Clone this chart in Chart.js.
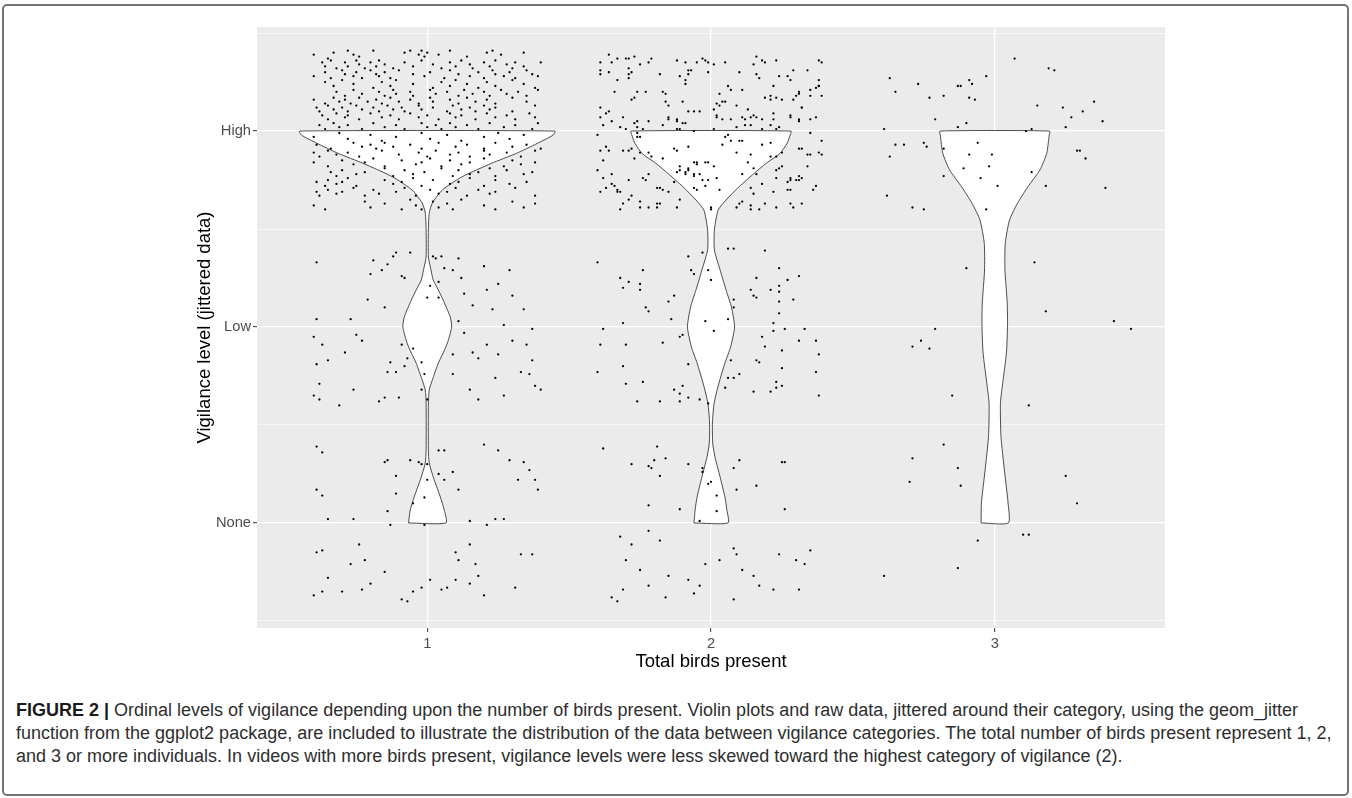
<!DOCTYPE html>
<html>
<head>
<meta charset="utf-8">
<script src="https://cdn.jsdelivr.net/npm/chart.js@4"></script>
<style>
html, body { margin: 0; padding: 0; background: #ffffff; }
#frame { position: absolute; left: 2px; top: 4px; width: 1343px; height: 788px; border: 2px solid #737373; border-radius: 5px; }
#wrap { position: absolute; left: 0; top: 0; width: 1352px; height: 690px; }
#caption { position: absolute; left: 16px; top: 699px; font-family: "Liberation Sans", Arial, sans-serif; font-size: 18px; line-height: 23px; color: #2e2e2e; white-space: nowrap; }
#caption b { color: #1a1a1a; }
</style>
</head>
<body>
<div id="frame"></div>
<div id="wrap"><canvas id="c"></canvas></div>
<div id="caption"><b>FIGURE 2 |</b> Ordinal levels of vigilance depending upon the number of birds present. Violin plots and raw data, jittered around their category, using the geom_jitter<br>function from the ggplot2 package, are included to illustrate the distribution of the data between vigilance categories. The total number of birds present represent 1, 2,<br>and 3 or more individuals. In videos with more birds present, vigilance levels were less skewed toward the highest category of vigilance (2).</div>
<script>
// ---------- categories & tick labels ----------
const xCategories = [1, 2, 3];
const xTickLabels = ['1', '2', '3'];
const yLevels = [0, 1, 2];
const yTickLabels = ['None', 'Low', 'High'];
const yMinorLines = [-0.5, 0.5, 1.5, 2.5];

// ---------- violin outlines (level value, half width in category units) ----------
const v1Level = [0.000,0.066,0.133,0.235,0.306,0.372,0.612,0.679,0.730,0.816,0.867,0.918,1.000,1.051,1.138,1.189,1.240,1.306,1.357,1.495,1.582,1.633,1.699,1.767,1.835,1.886,1.937,1.980,2.000];
const v1Half  = [0.066,0.060,0.046,0.021,0.007,0.004,0.004,0.007,0.018,0.039,0.056,0.071,0.086,0.081,0.056,0.039,0.021,0.011,0.004,0.004,0.007,0.018,0.053,0.123,0.226,0.314,0.388,0.444,0.450];
const v2Level = [0.000,0.066,0.133,0.235,0.337,0.408,0.510,0.612,0.714,0.816,0.898,1.000,1.102,1.189,1.291,1.393,1.495,1.597,1.648,1.716,1.784,1.835,1.886,1.937,1.980,2.000];
const v2Half  = [0.060,0.056,0.049,0.032,0.014,0.006,0.005,0.011,0.028,0.049,0.069,0.083,0.072,0.053,0.032,0.012,0.012,0.025,0.053,0.099,0.152,0.194,0.243,0.268,0.279,0.282];
const v3Level = [0.000,0.101,0.270,0.440,0.611,0.713,0.866,1.002,1.121,1.291,1.427,1.546,1.631,1.716,1.801,1.886,1.980,2.000];
const v3Half  = [0.048,0.047,0.034,0.022,0.020,0.028,0.041,0.045,0.044,0.036,0.037,0.052,0.080,0.117,0.159,0.183,0.192,0.193];

// ---------- jittered raw data [birds (jittered), vigilance (jittered)] ----------
const g1High = [
[0.60,2.39],[0.65,2.37],[0.67,2.40],[0.72,2.41],[0.74,2.39],[0.76,2.38],[0.81,2.41],[0.92,2.40],[0.94,2.41],[0.97,2.39],[0.98,2.41],[0.99,2.38],[1.00,2.40],[1.04,2.39],[1.08,2.41],[1.14,2.38],[1.21,2.40],[1.23,2.41],[1.26,2.39],[1.34,2.40],
[0.63,2.35],[0.64,2.33],[0.66,2.36],[0.68,2.32],[0.71,2.35],[0.72,2.33],[0.75,2.36],[0.76,2.34],[0.78,2.32],[0.80,2.35],[0.82,2.33],[0.83,2.36],[0.85,2.34],[0.88,2.32],[0.92,2.35],[0.95,2.33],[0.98,2.36],[1.02,2.34],[1.05,2.32],[1.08,2.35],[1.10,2.33],[1.12,2.36],[1.15,2.34],[1.16,2.32],[1.20,2.35],[1.22,2.33],[1.24,2.36],[1.28,2.34],[1.30,2.32],[1.31,2.35],[1.34,2.33],[1.40,2.35],
[0.60,2.28],[0.64,2.30],[0.66,2.27],[0.70,2.31],[0.71,2.29],[0.74,2.28],[0.75,2.30],[0.77,2.27],[0.80,2.31],[0.82,2.29],[0.83,2.28],[0.85,2.30],[0.87,2.27],[0.90,2.31],[0.95,2.29],[0.99,2.28],[1.01,2.30],[1.06,2.27],[1.08,2.31],[1.11,2.29],[1.15,2.28],[1.18,2.30],[1.20,2.27],[1.23,2.31],[1.24,2.29],[1.27,2.28],[1.29,2.30],[1.31,2.27],[1.35,2.31],[1.37,2.29],[1.39,2.28],
[0.64,2.25],[0.67,2.23],[0.70,2.26],[0.74,2.24],[0.81,2.22],[0.84,2.25],[0.87,2.23],[0.89,2.26],[0.95,2.24],[1.02,2.22],[1.05,2.25],[1.08,2.23],[1.10,2.26],[1.14,2.24],[1.18,2.22],[1.21,2.25],[1.24,2.23],[1.30,2.26],[1.34,2.24],[1.38,2.22],
[0.68,2.20],[0.71,2.18],[0.74,2.21],[0.77,2.19],[0.83,2.20],[0.85,2.18],[0.88,2.21],[0.89,2.19],[0.94,2.20],[0.95,2.18],[1.01,2.21],[1.03,2.19],[1.07,2.20],[1.11,2.18],[1.13,2.21],[1.16,2.19],[1.20,2.20],[1.22,2.18],[1.26,2.21],[1.28,2.19],[1.32,2.20],[1.35,2.18],[1.39,2.21],
[0.60,2.16],[0.64,2.14],[0.67,2.17],[0.69,2.15],[0.71,2.16],[0.73,2.14],[0.76,2.17],[0.79,2.15],[0.82,2.16],[0.84,2.14],[0.87,2.17],[0.90,2.15],[0.94,2.16],[0.97,2.14],[1.01,2.17],[1.02,2.15],[1.08,2.16],[1.11,2.14],[1.14,2.17],[1.17,2.15],[1.21,2.16],[1.24,2.14],[1.30,2.17],[1.35,2.15],
[0.61,2.12],[0.62,2.10],[0.65,2.13],[0.67,2.11],[0.70,2.12],[0.72,2.10],[0.75,2.13],[0.77,2.11],[0.81,2.12],[0.83,2.10],[0.86,2.13],[0.88,2.11],[0.91,2.12],[0.92,2.10],[0.97,2.13],[0.98,2.11],[1.02,2.12],[1.07,2.10],[1.09,2.13],[1.12,2.11],[1.15,2.12],[1.17,2.10],[1.20,2.13],[1.22,2.11],[1.24,2.12],[1.30,2.10],[1.38,2.13],
[0.63,2.08],[0.65,2.06],[0.68,2.09],[0.71,2.07],[0.72,2.08],[0.76,2.06],[0.80,2.09],[0.84,2.07],[0.87,2.08],[0.90,2.06],[0.94,2.09],[0.97,2.07],[1.00,2.08],[1.04,2.06],[1.08,2.09],[1.10,2.07],[1.12,2.08],[1.17,2.06],[1.21,2.09],[1.24,2.07],[1.28,2.08],[1.31,2.06],[1.36,2.09],[1.38,2.07],
[0.62,2.03],[0.64,2.01],[0.67,2.04],[0.69,2.02],[0.72,2.03],[0.77,2.01],[0.81,2.04],[0.85,2.02],[0.89,2.03],[0.92,2.01],[0.98,2.04],[1.00,2.02],[1.03,2.03],[1.05,2.01],[1.08,2.04],[1.10,2.02],[1.14,2.03],[1.18,2.01],[1.22,2.04],[1.27,2.02],[1.31,2.03],[1.37,2.01],[1.39,2.04],
[0.60,1.97],[0.69,1.99],[0.72,1.96],[0.80,1.98],[0.84,1.95],[0.89,1.97],[0.98,1.99],[1.01,1.96],[1.07,1.98],[1.12,1.95],[1.20,1.97],[1.25,1.99],[1.29,1.96],[1.34,1.98],
[0.61,1.93],[0.66,1.91],[0.74,1.94],[0.77,1.92],[0.80,1.93],[0.82,1.91],[0.85,1.94],[0.88,1.92],[0.94,1.93],[0.98,1.91],[1.04,1.94],[1.10,1.92],[1.14,1.93],[1.20,1.91],[1.24,1.94],[1.30,1.92],[1.35,1.93],[1.40,1.91],
[0.60,1.89],[0.62,1.87],[0.65,1.90],[0.68,1.88],[0.72,1.89],[0.76,1.87],[0.84,1.90],[0.90,1.88],[0.97,1.89],[1.00,1.87],[1.03,1.90],[1.08,1.88],[1.11,1.89],[1.15,1.87],[1.20,1.90],[1.22,1.88],[1.28,1.89],[1.33,1.87],[1.38,1.90],
[0.60,1.84],[0.65,1.82],[0.70,1.85],[0.74,1.83],[0.78,1.84],[0.81,1.86],[0.85,1.82],[0.91,1.85],[0.96,1.83],[0.98,1.84],[1.01,1.86],[1.05,1.82],[1.08,1.85],[1.12,1.83],[1.15,1.84],[1.20,1.86],[1.27,1.82],[1.30,1.85],[1.33,1.83],[1.38,1.84],
[0.66,1.79],[0.68,1.77],[0.70,1.80],[0.75,1.78],[0.78,1.79],[0.85,1.81],[0.88,1.77],[0.92,1.80],[0.95,1.78],[0.99,1.79],[1.05,1.81],[1.09,1.77],[1.11,1.80],[1.15,1.78],[1.18,1.79],[1.22,1.81],[1.24,1.77],[1.28,1.80],[1.34,1.78],[1.37,1.79],
[0.61,1.74],[0.64,1.72],[0.65,1.75],[0.68,1.73],[0.70,1.74],[0.72,1.76],[0.75,1.72],[0.85,1.75],[0.88,1.73],[0.91,1.74],[0.95,1.76],[0.98,1.72],[1.02,1.75],[1.08,1.73],[1.11,1.74],[1.15,1.76],[1.20,1.72],[1.24,1.75],[1.29,1.73],[1.35,1.74],
[0.61,1.69],[0.62,1.67],[0.65,1.70],[0.68,1.68],[0.70,1.69],[0.74,1.71],[0.78,1.67],[0.81,1.70],[0.83,1.68],[0.89,1.69],[0.92,1.71],[0.96,1.67],[1.01,1.70],[1.04,1.68],[1.07,1.69],[1.10,1.71],[1.14,1.67],[1.18,1.70],[1.22,1.68],[1.24,1.69],[1.31,1.71],[1.38,1.67],
[0.60,1.62],[0.64,1.60],[0.78,1.64],[0.80,1.61],[0.85,1.63],[0.91,1.60],[0.94,1.65],[0.96,1.62],[0.98,1.60],[1.02,1.64],[1.04,1.61],[1.07,1.63],[1.09,1.60],[1.12,1.65],[1.20,1.62],[1.24,1.60],[1.30,1.64],[1.34,1.61],[1.38,1.63]
];
const g1Low = [
[0.89,1.38],[0.88,1.36],[0.94,1.38],[0.86,1.32],[0.84,1.29],[0.91,1.26],[0.92,1.25],[1.02,1.36],[1.03,1.35],[1.05,1.36],[1.11,1.35],[1.06,1.30],[1.09,1.29],[1.12,1.25],[1.04,1.23],[1.01,1.21],[1.13,1.17],[1.00,1.15],[1.04,1.15],[1.16,1.11],[0.85,1.10],[1.11,1.03],[1.13,0.97],[0.91,0.91],[0.95,0.89],[1.16,0.87],[1.18,0.84],[1.09,0.86],[0.87,0.82],[0.93,0.84],[0.98,0.82],[0.92,0.80],[0.86,0.77],[0.89,0.77],[1.09,0.76],[0.99,0.76],[0.98,0.68],[1.15,0.68],[0.85,0.64],[0.83,0.62],[0.90,0.64],[1.00,0.63],[1.18,0.63],
[0.61,1.33],[0.61,1.04],[0.60,0.95],[0.63,0.91],[0.65,0.83],[0.61,0.81],[0.60,0.65],[0.62,0.63],[0.71,0.87],[0.73,1.04],[0.75,0.96],[0.77,0.93],[0.79,1.14],[0.80,1.27],[0.81,1.34],[0.74,0.68],[0.69,0.60],[0.62,0.71],
[1.21,1.19],[1.23,1.09],[1.25,1.22],[1.27,1.01],[1.30,0.93],[1.33,0.77],[1.35,0.91],[1.37,0.83],[1.38,0.70],[1.37,0.99],[1.34,1.09],[1.30,1.16],[1.25,0.86],[1.27,0.65],[1.24,0.74],[1.21,0.91],[1.20,1.31],[1.29,1.29],[1.36,0.76],[1.40,0.68]
];
const g1None = [
[1.04,0.37],[1.06,0.37],[0.85,0.31],[0.86,0.32],[0.94,0.32],[0.97,0.31],[0.98,0.30],[1.00,0.30],[1.04,0.25],[1.09,0.26],[0.89,0.24],[1.06,0.22],[1.00,0.22],[1.11,0.17],[0.89,0.15],[0.99,0.13],[0.95,0.10],[0.86,0.06],[0.87,-0.01],[0.99,-0.01],[1.15,0.01],
[0.61,0.39],[0.63,0.36],[0.61,0.17],[0.63,0.14],[0.65,0.02],[0.61,-0.15],[0.63,-0.14],[0.65,-0.28],[0.74,0.02],[0.76,-0.11],[0.78,-0.19],[0.73,-0.21],[0.80,-0.31],[0.85,-0.25],
[1.20,0.40],[1.25,0.37],[1.29,0.32],[1.32,0.22],[1.34,0.31],[1.36,0.27],[1.38,0.22],[1.39,0.17],[1.33,-0.16],[1.37,-0.16],[1.24,0.02],[1.27,0.02],[1.21,-0.01],[1.15,-0.11],[1.10,-0.15],[1.11,-0.19],[1.17,-0.21],[1.18,-0.27],[1.10,-0.29],[1.07,-0.33],[1.01,-0.29],
[0.60,-0.37],[0.63,-0.35],[0.70,-0.35],[0.77,-0.34],[0.91,-0.39],[0.93,-0.40],[0.95,-0.35],[0.98,-0.33],[1.05,-0.34],[1.15,-0.31],[1.20,-0.37],[1.31,-0.33]
];
const g2High = [
[1.64,2.39],[1.61,2.35],[1.65,2.35],[1.67,2.37],[1.70,2.37],[1.71,2.37],[1.73,2.38],[1.75,2.34],[1.78,2.35],[1.79,2.37],[1.88,2.36],[1.91,2.35],[1.95,2.35],[1.97,2.37],[1.98,2.36],[1.99,2.35],[2.01,2.34],[2.05,2.35],[2.16,2.38],[2.18,2.36],[2.19,2.35],[2.23,2.36],[2.15,2.34],[2.38,2.36],[2.39,2.35],
[1.61,2.31],[1.61,2.29],[1.64,2.30],[1.67,2.26],[1.71,2.32],[1.72,2.30],[1.71,2.29],[1.71,2.27],[1.82,2.29],[1.89,2.28],[1.92,2.31],[1.93,2.31],[1.92,2.29],[1.91,2.24],[1.91,2.26],[1.99,2.30],[2.10,2.30],[2.16,2.29],[2.17,2.27],[2.24,2.28],[2.27,2.28],[2.28,2.26],[2.29,2.31],[2.34,2.31],[2.38,2.26],[2.38,2.23],
[1.66,2.20],[1.72,2.16],[1.73,2.17],[1.74,2.20],[1.77,2.20],[1.83,2.20],[1.84,2.19],[1.84,2.15],[1.85,2.13],[1.90,2.15],[2.03,2.19],[2.06,2.23],[2.07,2.21],[2.11,2.21],[2.02,2.14],[2.03,2.13],[2.04,2.15],[2.05,2.15],[2.19,2.17],[2.21,2.18],[2.21,2.16],[2.23,2.17],[2.25,2.16],[2.22,2.23],[2.29,2.16],[2.30,2.18],[2.31,2.19],[2.31,2.20],[2.32,2.12],[2.35,2.21],[2.37,2.22],[2.38,2.23],[2.39,2.18],[2.35,2.18],
[1.61,2.12],[1.61,2.07],[1.63,2.09],[1.64,2.10],[1.65,2.05],[1.69,2.07],[1.74,2.05],[1.73,2.04],[1.78,2.05],[1.85,2.07],[1.85,2.06],[1.88,2.05],[1.88,2.06],[1.90,2.04],[1.91,2.04],[1.92,2.10],[1.94,2.10],[1.96,2.10],[2.01,2.11],[2.02,2.08],[2.02,2.07],[2.04,2.06],[2.07,2.06],[2.09,2.13],[2.11,2.07],[2.12,2.06],[2.13,2.11],[2.14,2.07],[2.15,2.08],[2.16,2.07],[2.18,2.06],[2.22,2.09],[2.22,2.06],[2.24,2.02],[2.28,2.08],[2.28,2.07],[2.31,2.06],[2.31,2.05],[2.32,2.12],[2.35,2.06],[2.37,2.07],
[1.62,2.03],[1.68,2.02],[1.70,2.01],[1.74,2.02],[1.76,2.01],[1.83,2.03],[1.88,2.01],[1.89,2.01],[1.94,2.00],[2.01,2.01],[2.09,2.02],[2.12,2.03],[2.14,2.03],[2.18,2.01],[2.21,2.03],[2.23,2.01],
[1.60,1.98],[1.61,1.90],[1.63,1.92],[1.64,1.90],[1.62,1.85],[1.60,1.80],[1.62,1.76],[1.65,1.78],[1.65,1.73],[1.66,1.72],[1.67,1.70],[1.67,1.69],[1.68,1.69],[1.61,1.69],[1.63,1.71],[1.69,1.90],[1.71,1.90],[1.72,1.91],[1.73,1.86],[1.75,1.97],[1.75,1.89],[1.74,1.97],[1.74,1.99],[1.78,1.89],[1.79,1.87],[1.78,1.78],[1.77,1.75],[1.76,1.76],[1.81,1.71],[1.82,1.71],[1.83,1.70],[1.85,1.69],[1.81,1.63],[1.81,1.61],[1.83,1.86],[1.87,1.91],[1.88,1.90],[1.89,1.82],[1.89,1.80],[1.87,1.74],[1.88,1.79],[1.92,1.92],[1.94,1.84],[1.95,1.84],[1.95,1.83],[1.96,1.78],[1.98,1.84],[1.99,1.84],[2.01,1.82],[1.94,1.78],[1.92,1.81],[1.92,1.80],[1.91,1.78],[1.91,1.79],[1.94,1.77],[1.97,1.75],[1.98,1.72],[1.99,1.75],[2.02,1.76],[2.03,1.70],[1.94,1.71],[1.95,1.70],
[2.05,1.97],[2.06,1.98],[2.04,1.93],[2.07,1.95],[2.10,1.95],[2.11,1.95],[2.09,1.89],[2.14,1.88],[2.13,1.84],[2.11,1.78],[2.15,1.81],[2.16,1.78],[2.18,1.93],[2.21,1.94],[2.21,1.87],[2.23,1.87],[2.25,1.89],[2.25,1.82],[2.23,1.80],[2.23,1.76],[2.24,1.81],[2.27,1.74],[2.28,1.75],[2.28,1.76],[2.30,1.75],[2.31,1.77],[2.31,1.75],[2.32,1.76],[2.34,1.82],[2.31,1.91],[2.32,1.91],[2.34,1.88],[2.35,1.88],[2.38,1.89],[2.39,1.88],[2.39,1.95],[2.35,1.99],[2.36,1.70],[2.37,1.72],[2.18,1.73],[2.14,1.71],[2.15,1.68],[2.22,1.69],[2.27,1.70],[2.28,1.70],
[2.11,1.64],[2.10,1.63],[2.09,1.61],[2.14,1.62],[2.14,1.60],[2.17,1.60],[2.19,1.63],[2.28,1.63],[2.29,1.61],[2.32,1.63],[2.23,1.61],[2.00,1.61],[2.00,1.60],[1.75,1.64],[1.71,1.65],[1.69,1.63],[1.68,1.60],[1.75,1.61],[1.72,1.67],[1.82,1.63],[1.78,1.61],[1.89,1.65],[1.88,1.61],[1.71,1.75]
];
const g2Low = [
[1.92,1.36],[1.97,1.38],[2.06,1.40],[2.08,1.40],[2.19,1.39],[1.76,1.29],[1.93,1.29],[1.94,1.27],[1.99,1.29],[2.00,1.24],[2.24,1.30],[2.31,1.26],[1.68,1.25],[1.71,1.23],[1.69,1.20],[1.75,1.22],[1.75,1.19],[2.16,1.25],[2.27,1.24],[2.14,1.19],[2.15,1.16],[2.16,1.15],[2.21,1.19],[2.24,1.21],[2.24,1.18],[2.29,1.14],[2.24,1.13],[2.24,1.07],[1.87,1.16],[1.85,1.13],[2.08,1.14],[2.08,1.10],[1.77,1.10],[1.78,1.08],[1.86,1.04],[1.98,1.03],[2.06,1.04],[1.69,1.02],[2.22,1.02],[2.26,0.99],[2.22,0.98],[2.01,0.98],[1.90,0.96],[1.89,0.95],[2.18,0.95],[1.70,0.91],[1.83,0.92],[2.19,0.90],[2.25,0.88],[2.31,0.93],[2.07,0.83],[2.16,0.83],[2.17,0.82],[2.25,0.79],[1.69,0.80],[1.92,0.81],[1.76,0.72],[1.70,0.71],[2.10,0.76],[2.08,0.74],[2.06,0.74],[2.05,0.69],[2.23,0.72],[2.23,0.69],[2.25,0.70],[2.21,0.67],[2.15,0.67],[1.90,0.70],[1.87,0.68],[1.89,0.66],[1.89,0.62],[1.92,0.64],[1.96,0.63],[1.99,0.61],[1.82,0.62],[1.74,0.62],
[1.60,1.33],[1.61,0.91],[1.60,0.77],[1.62,0.99],[2.37,0.93],[2.38,0.86],[2.37,0.77],[2.38,0.65],[2.33,0.99]
];
const g2None = [
[1.81,0.39],[1.72,0.30],[1.78,0.29],[1.80,0.32],[1.79,0.28],[1.84,0.33],[1.82,0.24],[1.92,0.30],[1.97,0.28],[1.97,0.26],[2.00,0.21],[1.99,0.20],[2.10,0.32],[2.08,0.28],[2.09,0.17],[2.16,0.19],[2.25,0.31],[2.26,0.31],[2.02,0.14],[2.02,0.06],[1.89,0.07],[1.78,0.09],[2.26,0.07],[1.96,0.01],
[1.62,0.38],[1.68,-0.07],[1.72,-0.11],[1.78,-0.04],[1.82,-0.09],[1.70,-0.19],[1.75,-0.24],[1.78,-0.32],[1.85,-0.27],[1.92,-0.29],[1.96,-0.32],[1.98,-0.21],[2.03,-0.19],[2.08,-0.13],[2.09,-0.16],[2.11,-0.24],[2.15,-0.27],[2.17,-0.32],[2.24,-0.16],[2.30,-0.19],[2.33,-0.21],[2.35,-0.14],[2.31,-0.34],[2.22,-0.34],[2.08,-0.39],[1.94,-0.36],[1.84,-0.38],[1.65,-0.38],[1.67,-0.40],[1.69,-0.34]
];
const g3High = [
[2.63,2.27],[2.65,2.20],[2.73,2.24],[2.77,2.17],[2.82,2.18],[2.87,2.23],[2.88,2.23],[2.91,2.26],[2.92,2.24],[2.91,2.17],[2.93,2.16],[2.97,2.28],[3.07,2.37],[3.19,2.32],[3.21,2.31],[3.15,2.13],[3.24,2.12],[3.31,2.10],[3.35,2.15],[3.27,2.07],[3.25,2.02],[3.38,2.05],[2.79,2.06],[2.61,2.01],[2.87,2.02],[2.90,2.04],[3.11,2.00],[3.13,2.01],
[2.65,1.93],[2.68,1.93],[2.75,1.94],[2.76,1.92],[2.63,1.87],[2.82,1.91],[2.94,1.94],[2.91,1.88],[2.99,1.88],[2.98,1.82],[2.89,1.81],[2.82,1.77],[2.95,1.76],[3.01,1.72],[3.13,1.79],[3.18,1.72],[3.29,1.90],[3.30,1.90],[3.32,1.86],[3.39,1.71],[2.62,1.67],[2.71,1.61],[2.75,1.60],[2.97,1.60]
];
const g3Low = [[2.90,1.30],[3.14,1.33],[3.18,1.08],[2.79,0.99],[2.74,0.93],[2.71,0.90],[2.77,0.89],[2.85,0.65],[3.12,0.60],[3.42,1.03],[3.48,0.99]];
const g3None = [[2.82,0.40],[2.71,0.33],[2.87,0.28],[2.70,0.21],[2.88,0.19],[3.25,0.24],[3.29,0.10],[3.10,-0.06],[3.12,-0.06],[2.94,-0.09],[2.87,-0.23],[2.61,-0.27]];

// ---------- build datasets ----------
const jitterPoints = [...g1High, ...g1Low, ...g1None, ...g2High, ...g2Low, ...g2None, ...g3High, ...g3Low, ...g3None]
  .map(([x, y]) => ({x, y}));

function violinOutline(center, levels, halves) {
  const pts = [];
  for (let i = 0; i < levels.length; i++) pts.push({x: center - halves[i], y: levels[i]});
  for (let i = levels.length - 1; i >= 0; i--) pts.push({x: center + halves[i], y: levels[i]});
  pts.push({x: center - halves[0], y: levels[0]});
  return pts;
}
const violins = [
  violinOutline(xCategories[0], v1Level, v1Half),
  violinOutline(xCategories[1], v2Level, v2Half),
  violinOutline(xCategories[2], v3Level, v3Half)
];

Chart.defaults.font.family = '"Liberation Sans", Arial, sans-serif';
Chart.defaults.color = '#4d4d4d';

const panelPlugin = {
  id: 'panel',
  beforeDraw(chart) {
    const {ctx, chartArea: a} = chart;
    ctx.save();
    ctx.fillStyle = '#ebebeb';
    ctx.fillRect(a.left, a.top, a.right - a.left, a.bottom - a.top);
    ctx.restore();
  },
  beforeDatasetsDraw(chart) {
    const ctx = chart.ctx;
    chart.data.datasets.forEach((ds, i) => {
      if (!ds.isViolin) return;
      const line = chart.getDatasetMeta(i).dataset;
      line.updateControlPoints(chart.chartArea, 'x');
      ctx.save();
      ctx.beginPath();
      line.path(ctx);
      ctx.closePath();
      ctx.fillStyle = '#ffffff';
      ctx.fill();
      ctx.restore();
    });
  }
};

const violinStyle = {
  type: 'scatter', showLine: true, isViolin: true, borderColor: '#3a3a3a', borderWidth: 0.9,
  pointRadius: 0, fill: false, tension: 0.2, order: 1
};

new Chart(document.getElementById('c'), {
  type: 'scatter',
  data: {
    datasets: [
      { data: jitterPoints, pointRadius: 1.15, pointBackgroundColor: '#000', pointBorderWidth: 0, order: 0 },
      Object.assign({ data: violins[0] }, violinStyle),
      Object.assign({ data: violins[1] }, violinStyle),
      Object.assign({ data: violins[2] }, violinStyle)
    ]
  },
  options: {
    responsive: true,
    maintainAspectRatio: false,
    animation: false,
    events: [],
    layout: { padding: { left: 194, top: 27, right: 187, bottom: 0 } },
    plugins: { legend: { display: false }, tooltip: { enabled: false } },
    scales: {
      x: {
        type: 'linear', min: 0.4, max: 3.6,
        afterBuildTicks: s => { s.ticks = xCategories.map(v => ({value: v})); },
        afterFit: s => { s.height = 62; },
        ticks: {
          autoSkip: false, maxRotation: 0, padding: 3, color: '#4d4d4d', font: { size: 14.7 },
          callback: v => { const i = xCategories.indexOf(v); return i >= 0 ? xTickLabels[i] : ''; }
        },
        grid: { color: '#ffffff', lineWidth: 1.3, tickLength: 4, tickColor: '#333333', tickWidth: 1 },
        border: { display: false },
        title: { display: true, text: 'Total birds present', color: '#000', font: { size: 18.5 }, padding: { top: 0, bottom: 17 } }
      },
      y: {
        type: 'linear', min: -0.536, max: 2.531,
        afterBuildTicks: s => { s.ticks = [...yMinorLines, ...yLevels].sort((a, b) => a - b).map(v => ({value: v})); },
        afterFit: s => { s.width = 63; },
        ticks: {
          autoSkip: false, padding: 2, color: '#4d4d4d', font: { size: 14.7 },
          callback: v => { const i = yLevels.indexOf(v); return i >= 0 ? yTickLabels[i] : ''; }
        },
        grid: {
          color: '#ffffff',
          lineWidth: c => (c.tick && yLevels.includes(c.tick.value)) ? 1.3 : 0.65,
          tickLength: 4,
          tickColor: c => (c.tick && yLevels.includes(c.tick.value)) ? '#333333' : 'rgba(0,0,0,0)',
          tickWidth: 1
        },
        border: { display: false },
        title: { display: true, text: 'Vigilance level (jittered data)', color: '#000', font: { size: 18.5 }, padding: { top: 0, bottom: 0 } }
      }
    }
  },
  plugins: [panelPlugin]
});
</script>
</body>
</html>
